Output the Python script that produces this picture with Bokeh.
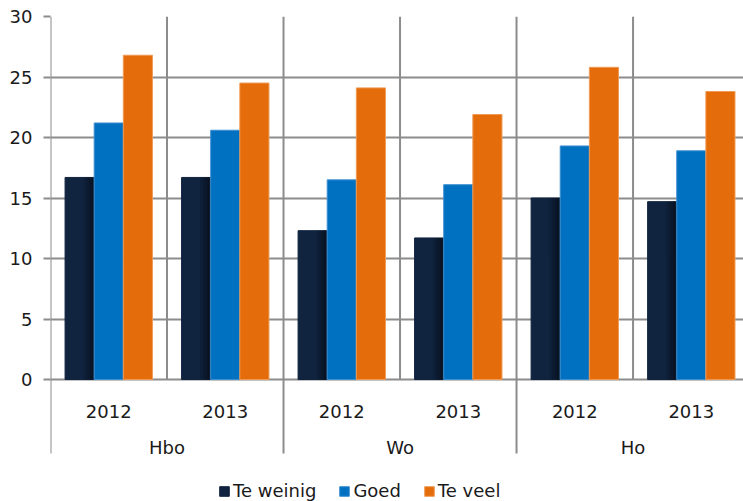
from bokeh.plotting import figure
from bokeh.models import Range1d, FixedTicker, Legend, LegendItem, ColumnDataSource
from bokeh.core.properties import value
from bokeh.embed import file_html
from bokeh.resources import INLINE

groups = ["Hbo", "Wo", "Ho"]
years = ["2012", "2013"]
series_names = ["Te weinig", "Goed", "Te veel"]
te_weinig = [16.7, 16.7, 12.3, 11.7, 15.0, 14.7]
goed = [21.2, 20.6, 16.5, 16.1, 19.3, 18.9]
te_veel = [26.8, 24.5, 24.1, 21.9, 25.8, 23.8]
y_ticks = [0, 5, 10, 15, 20, 25, 30]

colors = ["#10233f", "#0070c0", "#e46c0a"]
edge_colors = ["#10233f", "#3d8fd0", "#f09a55"]
grid_color = "#8c8c8c"
font = "DejaVu Sans"
text_color = "#1a1a1a"

n_cat = len(groups) * len(years)
centers = [i + 0.5 for i in range(n_cat)]
cat_labels = [y for g in groups for y in years]
group_centers = [len(years) * (i + 0.5) for i in range(len(groups))]

p = figure(width=743, height=501, output_backend="svg", toolbar_location=None,
           x_range=Range1d(0, 5.948), y_range=Range1d(-10.08, 30),
           min_border_left=50, min_border_right=0, min_border_top=16, min_border_bottom=0)
p.outline_line_color = None
p.background_fill_color = "white"
p.border_fill_color = "white"
p.xaxis.visible = False
p.xgrid.visible = False
p.ygrid.ticker = FixedTicker(ticks=y_ticks)
p.ygrid.grid_line_color = grid_color
p.ygrid.grid_line_width = 2
yax = p.yaxis[0]
yax.ticker = FixedTicker(ticks=y_ticks)
yax.axis_line_color = None
yax.major_tick_in = 0
yax.major_tick_out = 7
yax.major_tick_line_color = grid_color
yax.major_tick_line_width = 2
yax.minor_tick_line_color = None
yax.major_label_standoff = 11
yax.major_label_text_font = font
yax.major_label_text_font_size = "18px"
yax.major_label_text_color = text_color

# separator lines
year_sep = [i for i in range(1, n_cat, len(years))]
group_sep = [i for i in range(0, n_cat + 1, len(years))]
p.segment(x0=year_sep, y0=[0] * len(year_sep), x1=year_sep, y1=[30] * len(year_sep),
          line_color=grid_color, line_width=2)
p.segment(x0=group_sep, y0=[-6.12] * len(group_sep), x1=group_sep, y1=[30] * len(group_sep),
          line_color=grid_color, line_width=2)

renderers = []
shade = [(0.045, 0.02, "#0e1f38"), (0.065, 0.02, "#0c1b31"), (0.085, 0.02, "#0b172a"), (0.105, 0.02, "#091322")]
for k, (vals, c, ec) in enumerate(zip([te_weinig, goed, te_veel], colors, edge_colors)):
    xs = [x + (k - 1) * 0.25 for x in centers]
    r = p.vbar(x=xs, top=vals, bottom=0, width=0.25, fill_color=c, line_color=ec, line_width=1)
    renderers.append(r)
    if k == 0:
        for off, w, col in shade:
            p.vbar(x=[x + off for x in xs], top=vals, bottom=0, width=w, fill_color=col, line_color=None)

src = ColumnDataSource(dict(x=centers, t=cat_labels))
p.text(x="x", y=-2.64, text="t", source=src, text_align="center", text_baseline="alphabetic",
       text_font=value(font), text_font_size="18px", text_color=text_color)
src2 = ColumnDataSource(dict(x=group_centers, t=groups))
p.text(x="x", y=-5.62, text="t", source=src2, text_align="center", text_baseline="alphabetic",
       text_font=value(font), text_font_size="18px", text_color=text_color)

legend = Legend(items=[LegendItem(label=n, renderers=[r]) for n, r in zip(series_names, renderers)],
                orientation="horizontal", location=(168, 0), padding=0, margin=0,
                glyph_width=12, glyph_height=12, label_standoff=3, spacing=22,
                label_text_font=font, label_text_font_size="18px", label_text_color=text_color,
                label_height=18, border_line_color=None, background_fill_alpha=0)
p.add_layout(legend, "center")

open("out.html", "w").write(file_html(p, INLINE))
